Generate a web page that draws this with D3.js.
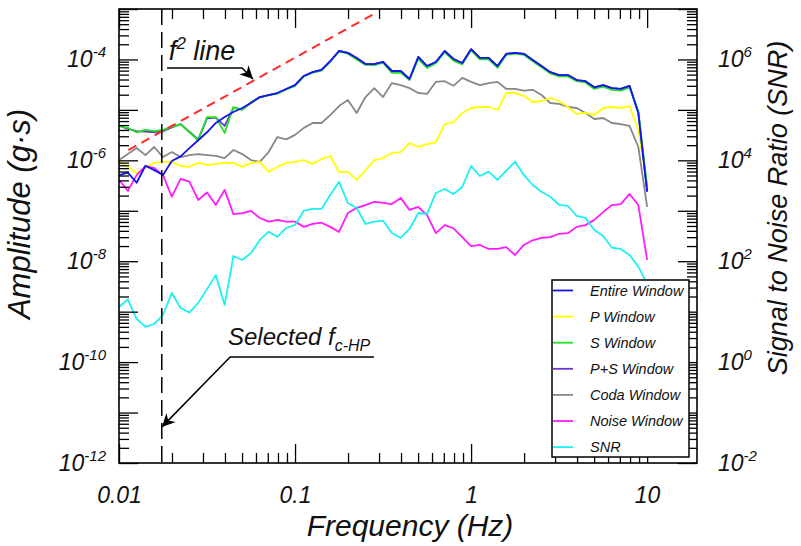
<!DOCTYPE html>
<html>
<head>
<meta charset="utf-8">
<script src="https://cdn.jsdelivr.net/npm/d3@7"></script>
<style>
  body { margin: 0; background: #fff; }
  svg { display: block; }
  text { font-family: "Liberation Sans", Arial, sans-serif; font-style: italic; fill: #111; }
</style>
</head>
<body>
<svg id="chart" width="801" height="546"></svg>
<script>
// Spectral amplitudes (g·s) per analysis window and the signal-to-noise ratio
const frequencies = [
  0.01, 0.01122, 0.01259, 0.01413, 0.01585, 0.01778, 0.01995, 0.02239, 0.02512, 0.02818,
  0.03162, 0.03548, 0.03981, 0.04467, 0.05012, 0.05623, 0.0631, 0.07079, 0.07943, 0.08913,
  0.1, 0.1122, 0.1259, 0.1413, 0.1585, 0.1778, 0.1995, 0.2239, 0.2512, 0.2818,
  0.3162, 0.3548, 0.3981, 0.4467, 0.5012, 0.5623, 0.631, 0.7079, 0.7943, 0.8913,
  1.0, 1.122, 1.259, 1.413, 1.585, 1.778, 1.995, 2.239, 2.512, 2.818,
  3.162, 3.548, 3.981, 4.467, 5.012, 5.623, 6.31, 7.079, 7.943, 8.913,
  10.0
];

const entireWindow = [
  5.1e-7, 5.7e-7, 3.6e-7, 7.8e-7, 6.4e-7, 5.1e-7, 9.7e-7, 1.2e-6, 1.75e-6, 2.5e-6,
  3.6e-6, 5.5e-6, 7.2e-6, 9.1e-6, 1.09e-5, 1.37e-5, 1.8e-5, 1.97e-5, 2.16e-5, 2.6e-5,
  3.1e-5, 4.7e-5, 5.6e-5, 6.2e-5, 9.3e-5, 1.47e-4, 1.35e-4, 1.07e-4, 8.1e-5, 8.1e-5,
  8.9e-5, 5.9e-5, 5.9e-5, 4.1e-5, 1.12e-4, 7.4e-5, 8.9e-5, 1.47e-4, 1.02e-4, 8.5e-5,
  1.6e-4, 1.07e-4, 1.07e-4, 7.4e-5, 1.29e-4, 1.35e-4, 1.29e-4, 9.8e-5, 7.4e-5, 5.6e-5,
  4.9e-5, 4.9e-5, 3.9e-5, 3.7e-5, 2.8e-5, 3.1e-5, 2.7e-5, 2.6e-5, 3.0e-5, 8.7e-6,
  2.4e-7
];

const pWindow = [
  9.7e-7, 7.4e-7, 5.6e-7, 7.1e-7, 8.9e-7, 9.3e-7, 9.3e-7, 7.7e-7, 7.4e-7, 8.9e-7,
  8.1e-7, 8.5e-7, 8.9e-7, 8.9e-7, 7.4e-7, 8.9e-7, 9.3e-7, 5.9e-7, 7.4e-7, 8.9e-7,
  9.3e-7, 1.01e-6, 8.5e-7, 1.06e-6, 1.22e-6, 5.9e-7, 5.9e-7, 4.1e-7, 6.4e-7, 1.0e-6,
  1.11e-6, 1.4e-6, 1.46e-6, 2.2e-6, 1.84e-6, 2.1e-6, 2.3e-6, 5.2e-6, 5.7e-6, 8.7e-6,
  1.09e-5, 1.14e-5, 1.14e-5, 1.0e-5, 2.16e-5, 2.16e-5, 1.9e-5, 1.43e-5, 1.5e-5, 1.72e-5,
  1.5e-5, 1.14e-5, 8.3e-6, 8.7e-6, 7.9e-6, 1.09e-5, 1.14e-5, 1.09e-5, 1.19e-5, 4.0e-6,
  3.3e-7
];

const sWindow = [
  4.8e-6, 4.4e-6, 3.6e-6, 4.0e-6, 3.8e-6, 4.0e-6, 4.6e-6, 5.2e-6, 3.6e-6, 2.5e-6,
  7.2e-6, 7.2e-6, 3.5e-6, 1.14e-5, 1.0e-5, 1.43e-5, 1.75e-5, 1.97e-5, 2.1e-5, 2.55e-5,
  3.0e-5, 4.6e-5, 5.5e-5, 6.0e-5, 9.0e-5, 1.45e-4, 1.3e-4, 1.0e-4, 7.8e-5, 7.7e-5,
  8.6e-5, 5.4e-5, 5.5e-5, 3.9e-5, 1.02e-4, 6.8e-5, 8.4e-5, 1.4e-4, 9.5e-5, 8.0e-5,
  1.52e-4, 1.0e-4, 1.0e-4, 6.8e-5, 1.24e-4, 1.3e-4, 1.24e-4, 9.2e-5, 7.0e-5, 5.3e-5,
  4.6e-5, 4.6e-5, 3.7e-5, 3.5e-5, 2.6e-5, 2.9e-5, 2.5e-5, 2.4e-5, 2.8e-5, 9.5e-6,
  3.0e-7
];

const psWindow = [
  4.9e-6, 4.2e-6, 3.8e-6, 3.7e-6, 3.6e-6, 3.8e-6, 4.5e-6, 5.2e-6, 3.7e-6, 2.6e-6,
  6.8e-6, 7.0e-6, 4.8e-6, 1.1e-5, 1.02e-5, 1.4e-5, 1.8e-5, 1.97e-5, 2.16e-5, 2.6e-5,
  3.1e-5, 4.7e-5, 5.6e-5, 6.2e-5, 9.3e-5, 1.47e-4, 1.35e-4, 1.07e-4, 8.1e-5, 8.1e-5,
  8.9e-5, 5.9e-5, 5.9e-5, 4.1e-5, 1.12e-4, 7.4e-5, 8.9e-5, 1.47e-4, 1.02e-4, 8.5e-5,
  1.6e-4, 1.07e-4, 1.07e-4, 7.4e-5, 1.29e-4, 1.35e-4, 1.29e-4, 9.8e-5, 7.4e-5, 5.6e-5,
  4.9e-5, 4.9e-5, 3.9e-5, 3.7e-5, 2.8e-5, 3.1e-5, 2.7e-5, 2.6e-5, 3.0e-5, 8.7e-6,
  2.4e-7
];

const codaWindow = [
  1.01e-6, 1.33e-6, 1.75e-6, 1.27e-6, 1.84e-6, 1.16e-6, 1.46e-6, 1.16e-6, 1.27e-6, 1.33e-6,
  1.27e-6, 1.22e-6, 1.11e-6, 1.6e-6, 1.33e-6, 1.01e-6, 9.3e-7, 1.46e-6, 2.9e-6, 2.6e-6,
  3.2e-6, 4.4e-6, 5.5e-6, 5.5e-6, 7.9e-6, 1.19e-5, 1.57e-5, 8.7e-6, 1.8e-5, 2.7e-5,
  1.8e-5, 3.4e-5, 3.1e-5, 2.7e-5, 2.16e-5, 2.07e-5, 3.6e-5, 3.7e-5, 3.0e-5, 4.3e-5,
  3.6e-5, 3.1e-5, 3.4e-5, 3.6e-5, 2.6e-5, 2.6e-5, 2.4e-5, 2.5e-5, 1.97e-5, 1.37e-5,
  1.31e-5, 1.14e-5, 1.09e-5, 8.7e-6, 6.6e-6, 6.9e-6, 5.5e-6, 5.2e-6, 4.8e-6, 1.84e-6,
  1.19e-7
];

const noiseWindow = [
  4.1e-7, 2.5e-7, 5.1e-7, 7.7e-7, 7.1e-7, 5.1e-7, 1.9e-7, 4.3e-7, 3.8e-7, 1.64e-7,
  2.3e-7, 1.3e-7, 2.6e-7, 8.6e-8, 9.0e-8, 9.9e-8, 7.2e-8, 6.1e-8, 6.6e-8, 6.1e-8,
  6.1e-8, 4.8e-8, 5.5e-8, 5.8e-8, 4.8e-8, 3.8e-8, 9.0e-8, 1.14e-7, 1.3e-7, 1.5e-7,
  1.43e-7, 1.36e-7, 1.8e-7, 1.04e-7, 1.19e-7, 8.2e-8, 3.6e-8, 5.2e-8, 4.5e-8, 3.0e-8,
  2.0e-8, 2.1e-8, 1.75e-8, 1.75e-8, 1.9e-8, 1.33e-8, 2.1e-8, 2.6e-8, 2.9e-8, 3.0e-8,
  3.5e-8, 3.6e-8, 4.8e-8, 5.2e-8, 6.6e-8, 9.4e-8, 1.3e-7, 1.36e-7, 2.15e-7, 1.3e-7,
  1.06e-8
];

const snr = [
  12.4, 17.5, 7.2, 5.0, 5.7, 8.6, 23.5, 11.8, 9.6, 14.9,
  28, 53, 13.6, 127, 106, 146, 264, 385, 303, 456,
  524, 1005, 1086, 1086, 2056, 3776, 1429, 1137, 547, 608,
  637, 363, 289, 436, 904, 865, 2254, 2704, 2153, 2965,
  7730, 4898, 5957, 4081, 6237, 9400, 5129, 3243, 2393, 1905,
  1303, 1245, 789, 720, 416, 316, 185, 175, 133, 78,
  35
];

// f^2 reference line, end points (frequency Hz, amplitude g·s)
const f2LineFreq = [0.0113, 0.29];
const f2LineAmp = [1.6e-6, 8.5e-4];

// selected high-pass corner frequency (Hz)
const selectedFcHP = 0.0175;

const xTickLabels = ["0.01", "0.1", "1", "10"];
const yTickExponents = [-12, -10, -8, -6, -4];
const snrTickExponents = [-2, 0, 2, 4, 6];

const series = [
  { name: "Coda Window",   values: codaWindow,   color: "#888888", axis: "amp" },
  { name: "P Window",      values: pWindow,      color: "#ffff00", axis: "amp" },
  { name: "Noise Window",  values: noiseWindow,  color: "#ff1aff", axis: "amp" },
  { name: "SNR",           values: snr,          color: "#1ef0f0", axis: "snr" },
  { name: "P+S Window",    values: psWindow,     color: "#6a35d0", axis: "amp" },
  { name: "S Window",      values: sWindow,      color: "#22e022", axis: "amp" },
  { name: "Entire Window", values: entireWindow, color: "#1414f0", axis: "amp" }
];
const legendOrder = ["Entire Window", "P Window", "S Window", "P+S Window", "Coda Window", "Noise Window", "SNR"];

const svg = d3.select("#chart");
const plot = { left: 119, right: 697, top: 9, bottom: 463 };

const x = d3.scaleLog().domain([0.01, 19.2]).range([plot.left, plot.right]);
const y = d3.scaleLog().domain([1e-12, 1e-3]).range([plot.bottom, plot.top]);
const ySnr = d3.scaleLog().domain([1e-2, 1e7]).range([plot.bottom, plot.top]);

const defs = svg.append("defs");
defs.append("clipPath").attr("id", "plotClip")
  .append("rect")
  .attr("x", plot.left).attr("y", plot.top)
  .attr("width", plot.right - plot.left).attr("height", plot.bottom - plot.top);
defs.append("marker")
  .attr("id", "arrowHead")
  .attr("viewBox", "-14 -8 16 16")
  .attr("refX", 0).attr("refY", 0)
  .attr("markerWidth", 16).attr("markerHeight", 16)
  .attr("markerUnits", "userSpaceOnUse")
  .attr("orient", "auto")
  .append("path")
  .attr("d", "M0,0 L-13,-6.5 L-9,0 L-13,6.5 Z")
  .attr("fill", "#000");

// curves
const curves = svg.append("g").attr("clip-path", "url(#plotClip)");
series.forEach(s => {
  const yScale = s.axis === "snr" ? ySnr : y;
  const line = d3.line()
    .x((d, i) => x(frequencies[i]))
    .y(d => yScale(d));
  curves.append("path")
    .datum(s.values)
    .attr("d", line)
    .attr("fill", "none")
    .attr("stroke", s.color)
    .attr("stroke-width", 1.8)
    .attr("stroke-linejoin", "round");
});

// f^2 reference line
curves.append("line")
  .attr("x1", x(f2LineFreq[0])).attr("y1", y(f2LineAmp[0]))
  .attr("x2", x(f2LineFreq[1])).attr("y2", y(f2LineAmp[1]))
  .attr("stroke", "#ff2a2a").attr("stroke-width", 2)
  .attr("stroke-dasharray", "9,6");

// selected corner frequency
svg.append("line")
  .attr("x1", x(selectedFcHP)).attr("x2", x(selectedFcHP))
  .attr("y1", plot.top).attr("y2", plot.bottom)
  .attr("stroke", "#000").attr("stroke-width", 1.5)
  .attr("stroke-dasharray", "16,7");

// axes: ticks point inward on all four sides
const xMinor = [];
[0.01, 0.1, 1].forEach(d => { for (let m = 2; m <= 9; m++) xMinor.push(d * m); });
const xMajor = [0.01, 0.1, 1, 10];
const yMajor = d3.range(-12, -2).map(e => Math.pow(10, e));
const yMinor = [];
d3.range(-12, -3).forEach(e => { for (let m = 2; m <= 9; m++) yMinor.push(m * Math.pow(10, e)); });
const sMajor = d3.range(-2, 8).map(e => Math.pow(10, e));
const sMinor = [];
d3.range(-2, 7).forEach(e => { for (let m = 2; m <= 9; m++) sMinor.push(m * Math.pow(10, e)); });

function styleAxis(g) {
  g.select(".domain").remove();
  g.selectAll(".tick line").attr("stroke", "#000").attr("stroke-width", 1.3);
}

const MAJ = 19, MIN = 10;
const fmtX = d => xTickLabels[xMajor.indexOf(d)];

svg.append("g").attr("transform", `translate(0,${plot.bottom})`)
  .call(d3.axisBottom(x).tickValues(xMinor).tickSize(-MIN).tickFormat(""))
  .call(styleAxis);
svg.append("g").attr("transform", `translate(0,${plot.bottom})`)
  .call(d3.axisBottom(x).tickValues(xMajor).tickSize(-MAJ).tickPadding(24).tickFormat(fmtX))
  .call(styleAxis)
  .call(g => g.selectAll(".tick text").attr("font-size", 23).attr("font-family", null).attr("fill", "#111"));
svg.append("g").attr("transform", `translate(0,${plot.top})`)
  .call(d3.axisTop(x).tickValues(xMinor).tickSize(-MIN).tickFormat(""))
  .call(styleAxis);
svg.append("g").attr("transform", `translate(0,${plot.top})`)
  .call(d3.axisTop(x).tickValues(xMajor).tickSize(-MAJ).tickFormat(""))
  .call(styleAxis);

svg.append("g").attr("transform", `translate(${plot.left},0)`)
  .call(d3.axisLeft(y).tickValues(yMinor).tickSize(-MIN).tickFormat(""))
  .call(styleAxis);
svg.append("g").attr("transform", `translate(${plot.left},0)`)
  .call(d3.axisLeft(y).tickValues(yMajor).tickSize(-MAJ).tickFormat(""))
  .call(styleAxis);
svg.append("g").attr("transform", `translate(${plot.right},0)`)
  .call(d3.axisRight(ySnr).tickValues(sMinor).tickSize(-MIN).tickFormat(""))
  .call(styleAxis);
svg.append("g").attr("transform", `translate(${plot.right},0)`)
  .call(d3.axisRight(ySnr).tickValues(sMajor).tickSize(-MAJ).tickFormat(""))
  .call(styleAxis);

// power-of-ten labels with superscript exponents
function powerLabel(g, exp, px, py, anchor) {
  const t = g.append("text")
    .attr("x", px).attr("y", py + 8)
    .attr("text-anchor", anchor)
    .attr("font-size", 23);
  t.append("tspan").text("10");
  t.append("tspan").attr("dy", -10).attr("font-size", 15).text(String(exp));
}
const labels = svg.append("g");
yTickExponents.forEach(e => powerLabel(labels, e, 106, y(Math.pow(10, e)), "end"));
snrTickExponents.forEach(e => powerLabel(labels, e, 718, ySnr(Math.pow(10, e)), "start"));

// plot frame
svg.append("rect")
  .attr("x", plot.left).attr("y", plot.top)
  .attr("width", plot.right - plot.left).attr("height", plot.bottom - plot.top)
  .attr("fill", "none").attr("stroke", "#000").attr("stroke-width", 1.6);

// axis titles
svg.append("text")
  .attr("transform", `translate(30,${(plot.top + plot.bottom) / 2 - 22}) rotate(-90)`)
  .attr("text-anchor", "middle").attr("font-size", 31)
  .text("Amplitude (g·s)");
svg.append("text")
  .attr("x", 410).attr("y", 536)
  .attr("text-anchor", "middle").attr("font-size", 30)
  .text("Frequency (Hz)");
svg.append("text")
  .attr("transform", `translate(787,${(plot.top + plot.bottom) / 2 - 28}) rotate(-90)`)
  .attr("text-anchor", "middle").attr("font-size", 27)
  .text("Signal to Noise Ratio (SNR)");

// annotation: f^2 line
const f2Label = svg.append("text")
  .attr("x", x(0.0192)).attr("y", y(9.8e-5))
  .attr("font-size", 27);
f2Label.append("tspan").text("f");
f2Label.append("tspan").attr("dy", -11).attr("font-size", 17).text("2");
f2Label.append("tspan").attr("dy", 11).text(" line");
svg.append("path")
  .attr("d", d3.line()([[x(0.01875), y(6.8e-5)], [x(0.05), y(6.8e-5)], [x(0.0577), y(4.1e-5)]]))
  .attr("fill", "none").attr("stroke", "#000").attr("stroke-width", 1.5)
  .attr("marker-end", "url(#arrowHead)");

// annotation: selected high-pass corner
const fcLabel = svg.append("text")
  .attr("x", x(0.0416)).attr("y", y(2.18e-10))
  .attr("font-size", 24);
fcLabel.append("tspan").text("Selected f");
fcLabel.append("tspan").attr("dy", 6).attr("font-size", 16).text("c-HP");
svg.append("path")
  .attr("d", d3.line()([[x(0.281), y(1.26e-10)], [x(0.0428), y(1.26e-10)], [x(0.01754), y(5.2e-12)]]))
  .attr("fill", "none").attr("stroke", "#000").attr("stroke-width", 1.5)
  .attr("marker-end", "url(#arrowHead)");

// legend
const legend = svg.append("g");
legend.append("rect")
  .attr("x", 552).attr("y", 280).attr("width", 137).attr("height", 177)
  .attr("fill", "#fff").attr("stroke", "#000").attr("stroke-width", 1.5);
legendOrder.forEach((name, i) => {
  const s = series.find(d => d.name === name);
  const ly = 290.5 + i * 26.1;
  legend.append("line")
    .attr("x1", 553).attr("x2", 573).attr("y1", ly).attr("y2", ly)
    .attr("stroke", s.color).attr("stroke-width", 1.8);
  legend.append("text")
    .attr("x", 590).attr("y", ly + 5)
    .attr("font-size", 14.5)
    .text(name);
});
</script>
</body>
</html>
